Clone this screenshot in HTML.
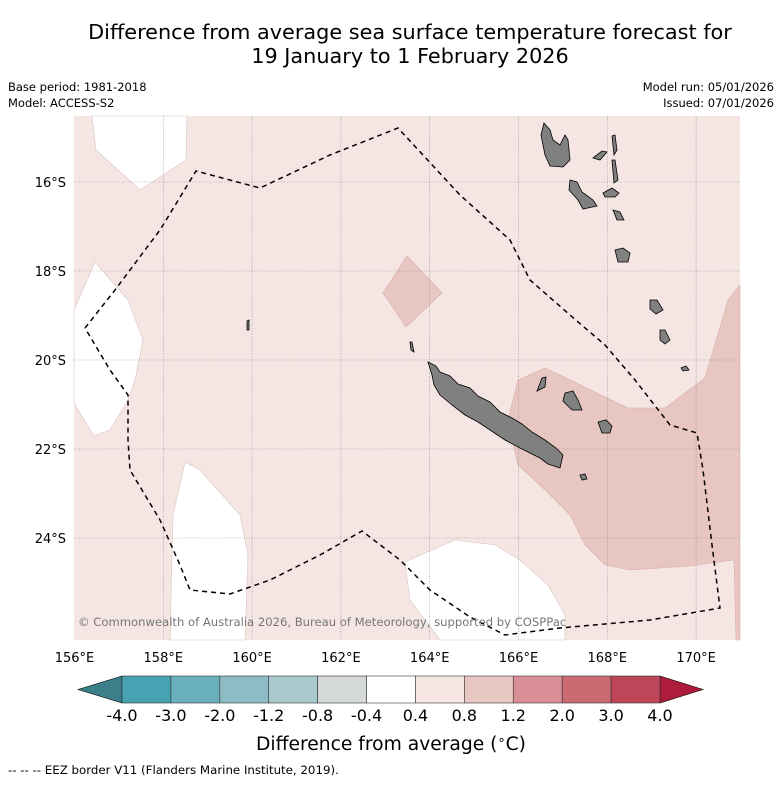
<!DOCTYPE html>
<html><head><meta charset="utf-8"><style>
body{margin:0;background:#fff;font-family:"Liberation Sans","DejaVu Sans",sans-serif}
svg text{font-family:"DejaVu Sans","Liberation Sans",sans-serif}
</style></head><body>
<svg id="c" width="781" height="781" viewBox="0 0 781 781" xmlns="http://www.w3.org/2000/svg">
<text x="410" y="39" font-size="20.8" text-anchor="middle">Difference from average sea surface temperature forecast for</text>
<text x="410" y="63" font-size="20.8" text-anchor="middle">19 January to 1 February 2026</text>
<text x="8" y="91" font-size="11.5">Base period: 1981-2018</text>
<text x="8" y="107" font-size="11.5">Model: ACCESS-S2</text>
<text x="774" y="91" font-size="11.5" text-anchor="end">Model run: 05/01/2026</text>
<text x="774" y="107" font-size="11.5" text-anchor="end">Issued: 07/01/2026</text>
<g>
<rect x="74" y="116" width="666" height="524" fill="#f5e6e4"/>
<polygon fill="#fff" stroke="#d8c4c0" stroke-width="0.6" points="92,116 187,116 186,160 140,190 96,150"/>
<polygon fill="#fff" stroke="#d8c4c0" stroke-width="0.6" points="74,310 95,262 128,300 143,340 135,380 128,400 110,430 94,436 74,403"/>
<polygon fill="#fff" stroke="#d8c4c0" stroke-width="0.6" points="170,640 173,515 185,462 200,470 240,515 248,555 245,640"/>
<polygon fill="#fff" stroke="#d8c4c0" stroke-width="0.6" points="405,562 455,540 495,545 520,560 548,585 565,615 565,640 440,640 410,600"/>
<polygon fill="#e8c6c1" stroke="#d8b0aa" stroke-width="0.6" points="518,380 545,368 595,392 628,408 665,408 705,378 728,300 740,285 740,640 736,640 734,560 690,566 630,570 605,565 585,545 570,515 542,487 518,465 508,420"/>
<polygon fill="#e8c6c1" stroke="#d8b0aa" stroke-width="0.6" points="407,256 442,293 406,327 383,293"/>
<g stroke="#888" stroke-width="0.6" stroke-dasharray="1,1.5" id="grid"></g>
<polyline fill="none" stroke="#000" stroke-width="1.5" stroke-dasharray="5,4" points="85,328 115,290 160,230 196,171 260,188 330,155 398,128 460,195 510,240 530,280 570,315 605,345 635,380 670,425 697,433 703,470 712,545 720,608 650,620 560,628 505,635 470,617 430,590 400,560 362,531 320,555 270,580 230,594 190,590 180,565 160,520 130,470 128,440 128,395 110,370 85,328"/>
<g fill="#808080" stroke="#000" stroke-width="0.8">
<polygon points="428,362 436,366 440,372 450,376 458,384 470,388 478,396 490,402 500,412 512,418 522,424 532,432 545,440 556,448 563,455 560,468 548,464 540,458 520,448 505,440 490,430 478,422 465,415 452,405 440,395 434,385 432,375"/>
<polygon points="544,123 550,130 553,140 560,145 565,135 568,140 570,160 563,167 550,166 545,155 541,135"/>
<polygon points="570,180 577,182 582,192 593,200 597,206 583,209 578,200 569,190"/>
<polygon points="603,193 612,188 619,193 615,197 605,197"/>
<polygon points="615,250 623,248 630,253 628,262 618,262"/>
<polygon points="613,210 620,212 624,220 617,220"/>
<polygon points="612,136 615,135 617,150 614,155"/>
<polygon points="612,160 615,160 618,180 614,183"/>
<polygon points="593,158 602,151 607,152 600,160"/>
<polygon points="542,378 546,377 545,387 537,391"/>
<polygon points="565,393 573,391 578,400 582,410 572,410 563,401"/>
<polygon points="598,422 606,420 612,426 610,433 602,433"/>
<polygon points="650,300 657,300 663,310 656,314 650,309"/>
<polygon points="660,330 665,330 670,340 665,344 660,340"/>
<polygon points="681,368 686,366 689,370 683,371"/>
<polygon points="580,475 585,474 587,479 582,480"/>
<polygon points="247,321 249,320 249,330 247,330"/>
<polygon points="410,342 412,342 414,352 411,350"/>
</g>
<text x="78" y="626" font-size="11.6" fill="#777">© Commonwealth of Australia 2026, Bureau of Meteorology, supported by COSPPac</text>
</g>
<g id="axes"></g>
<g id="cbar"></g>
<text x="391" y="750" font-size="18.7" text-anchor="middle">Difference from average (<tspan font-size="13" dy="-6">∘</tspan><tspan dy="6">C)</tspan></text>
<text x="8" y="774" font-size="11.8">-- -- -- EEZ border V11 (Flanders Marine Institute, 2019).</text>
</svg>
<script>
const lonTicks=[156,158,160,162,164,166,168,170];
const latTicks=[16,18,20,22,24];
const cbarLevels=["-4.0","-3.0","-2.0","-1.2","-0.8","-0.4","0.4","0.8","1.2","2.0","3.0","4.0"];
const cbarColors=["#47a2b1","#6aafbc","#8dbbc6","#aacacd","#d4d8d8","#ffffff","#f5e6e4","#e8c6c1","#d98f96","#cc6a74","#bf4658"];
const cbarExtColors=["#3a7f8a","#ad1c3b"];
const NS="http://www.w3.org/2000/svg";
const xLon=l=>74.5+(l-156)*44.4;
const yLat=l=>182+(l-16)*44.5;
function mk(t,a,p){const e=document.createElementNS(NS,t);for(const k in a)e.setAttribute(k,a[k]);p.appendChild(e);return e;}
const grid=document.getElementById('grid'),axes=document.getElementById('axes'),cb=document.getElementById('cbar');
lonTicks.forEach(l=>{const x=xLon(l);
 if(l>156){const g=mk('line',{x1:x,x2:x,y1:116,y2:640},grid);
 
 }
 const t=mk('text',{x:x,y:662,'font-size':13,'text-anchor':'middle'},axes);t.textContent=l+'°E';
 
 });
latTicks.forEach(l=>{const y=yLat(l);
 const g=mk('line',{x1:74,x2:740,y1:y,y2:y},grid);
 
 
 const t=mk('text',{x:66,y:y+5,'font-size':13,'text-anchor':'end'},axes);t.textContent=l+'°S';
 
 });
const cx0=122,cx1=660,cy0=676,cy1=703,n=cbarColors.length,w=(cx1-cx0)/n;
const tl=mk('polygon',{points:`${cx0},${cy0} 78,${(cy0+cy1)/2} ${cx0},${cy1}`,fill:cbarExtColors[0],stroke:'#000','stroke-width':0.6},cb);


const tr=mk('polygon',{points:`${cx1},${cy0} 703,${(cy0+cy1)/2} ${cx1},${cy1}`,fill:cbarExtColors[1],stroke:'#000','stroke-width':0.6},cb);


cbarColors.forEach((c,i)=>{const r=mk('rect',{x:cx0+i*w,y:cy0,width:w,height:cy1-cy0,fill:c,stroke:'#333','stroke-width':0.6},cb);
 
 });
cbarLevels.forEach((s,i)=>{const t=mk('text',{x:cx0+i*w,y:721,'font-size':16,'text-anchor':'middle'},cb);t.textContent=s;
 
 });
</script>
</body></html>
